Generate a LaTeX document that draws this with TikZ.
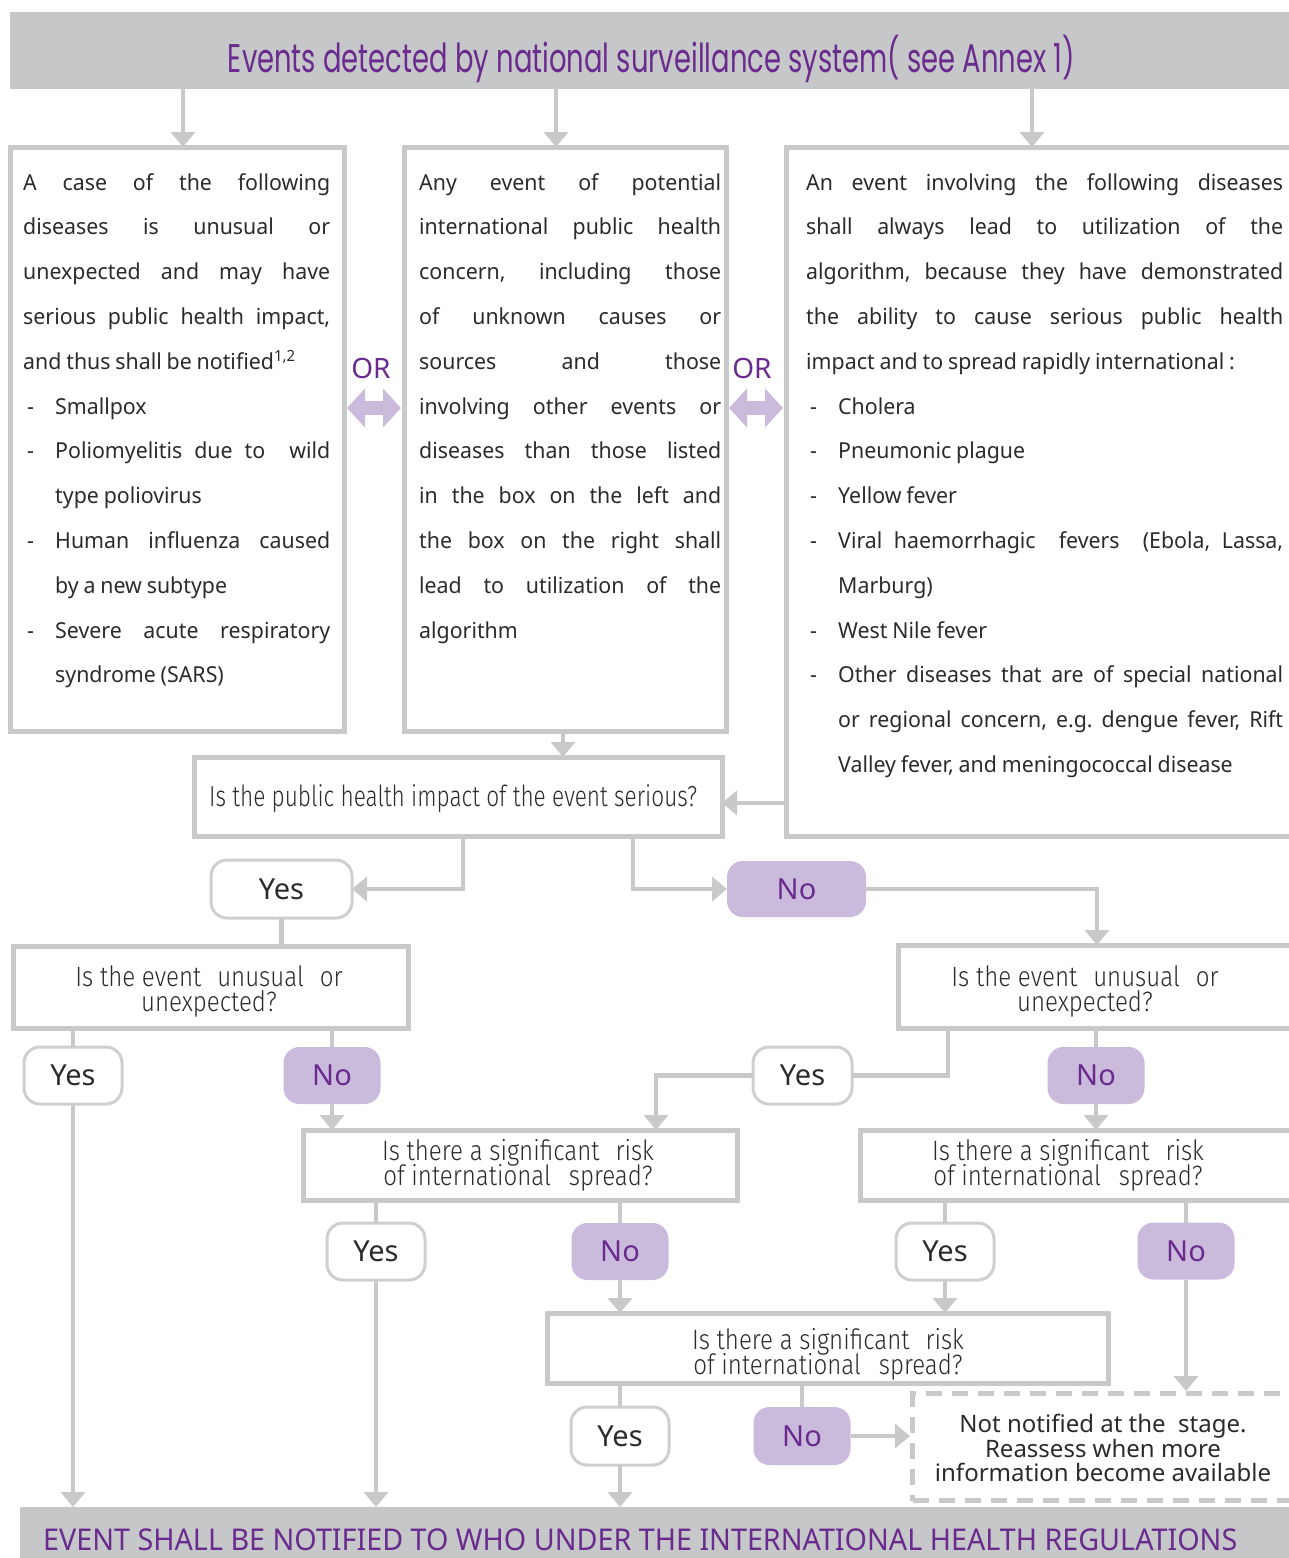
\documentclass[tikz,border=0pt]{standalone}
\usepackage{fontspec}
\usepackage{graphicx}
\usetikzlibrary{arrows.meta}
\setmainfont{Noto Sans}
\newfontfamily\titlef{Poppins}
\newfontfamily\qf{Fira Sans Light}[FakeStretch=0.78]
\newfontfamily\qfw{Fira Sans Light}[FakeStretch=0.86]
\newfontfamily\bodyf{Noto Sans}[FakeStretch=0.97]
\definecolor{lg}{HTML}{C8C9CB}
\definecolor{hdrg}{HTML}{C6C7C9}
\definecolor{purp}{HTML}{6A2A8E}
\definecolor{lav}{HTML}{CABBDC}
\definecolor{yb}{HTML}{CFCFD1}
\definecolor{tx}{HTML}{2B2B2B}
\frenchspacing
\newcommand\xJL[1]{\hbox to \hsize{#1}}
\newcommand\xLL[1]{\hbox to \hsize{#1\hfil}}
\newcommand\xBJ[1]{\hbox to \hsize{\hbox to 32pt{\hspace*{4pt}-\hfil}#1}}
\newcommand\xBL[1]{\hbox to \hsize{\hbox to 32pt{\hspace*{4pt}-\hfil}#1\hfil}}
\newcommand\xIJ[1]{\hbox to \hsize{\hspace*{32pt}#1}}
\newcommand\xIL[1]{\hbox to \hsize{\hspace*{32pt}#1\hfil}}
\newcommand\bodyset{\bodyf\fontsize{22}{44.8}\selectfont\spaceskip=0.22em plus 0.2em minus 0.05em\relax}
\newcommand\qset{\qf\fontsize{29}{25}\selectfont\lineskiplimit=-20pt\relax\lineskip=0pt\relax}
\newcommand\qsetw{\qfw\fontsize{28}{25}\selectfont\lineskiplimit=-20pt\relax\lineskip=0pt\relax}
\newcommand\noteset{\fontsize{24}{24.5}\selectfont\lineskiplimit=-20pt\relax\lineskip=0pt\relax}
\begin{document}
\begin{tikzpicture}[x=1pt,y=-1pt,
  box/.style={draw=lg, line width=5pt, inner sep=0pt, outer sep=0pt},
  sz/.style 2 args={minimum width=#1, minimum height=#2},
  yesb/.style={draw=yb, line width=3pt, rounded corners=16pt, fill=white, inner sep=0pt, outer sep=0pt,
     text=tx, font=\fontsize{29}{29}\selectfont},
  nob/.style={fill=lav, rounded corners=16pt, inner sep=0pt, outer sep=0pt,
     text=purp, font=\fontsize{29}{29}\selectfont},
  qtext/.style={inner sep=0pt, text=tx, align=center, font=\qsetw},
  arr/.style={draw=lg, line width=4.5pt, -{Triangle[width=24pt,length=15pt]}},
  ln/.style={draw=lg, line width=4.5pt},
  dbl/.style={draw=lav, line width=14pt, {Triangle[width=38pt,length=18pt]}-{Triangle[width=38pt,length=18pt]},
     shorten <=3pt, shorten >=3pt},
  ortext/.style={text=purp, inner sep=0pt, font=\fontsize{28}{28}\selectfont},
  bodytext/.style={anchor=base west, inner sep=0pt, text=tx}]
\useasboundingbox (0,0) rectangle (1289,1558);

% header and footer bars
\node[fill=hdrg, anchor=north west, sz={1300pt}{77pt}, inner sep=0pt] (hdr) at (10,12) {};
\node[anchor=base, text=purp, inner sep=0pt] (title) at (651.5,72)
  {\resizebox{847pt}{\height}{\titlef\fontsize{40}{40}\selectfont Events detected by national surveillance system( see Annex 1)}};
\node[fill=hdrg, anchor=north west, sz={1300pt}{60pt}, inner sep=0pt] (bar) at (20,1507) {};
\node[anchor=base west, text=purp, inner sep=0pt] (bart) at (43,1550)
  {\resizebox{1194pt}{\height}{\fontsize{30}{30}\selectfont EVENT SHALL BE NOTIFIED TO WHO UNDER THE INTERNATIONAL HEALTH REGULATIONS}};

% three top boxes
\node[box, sz={334pt}{584pt}] (b1) at (177,439) {};
\node[box, sz={322pt}{584pt}] (b2) at (565,439) {};
\node[box, sz={514pt}{689pt}] (b3) at (1043,491.5) {};

\node[bodytext] (b1t) at (23,190) {\parbox[t]{307pt}{\bodyset
\xJL{A case of the following}
\xJL{diseases is unusual or}
\xJL{unexpected and may have}
\xJL{serious public health impact,}
\xLL{and thus shall be notified\textsuperscript{1,2}}
\xBL{Smallpox}
\xBJ{Poliomyelitis due to~ wild}
\xIL{type poliovirus}
\xBJ{Human influenza caused}
\xIL{by a new subtype}
\xBJ{Severe acute respiratory}
\xIL{syndrome (SARS)}}};

\node[bodytext] (b2t) at (419,190) {\parbox[t]{302pt}{\bodyset
\xJL{Any event of potential}
\xJL{international public health}
\xJL{concern, including those}
\xJL{of unknown causes or}
\xJL{sources and those}
\xJL{involving other events or}
\xJL{diseases than those listed}
\xJL{in the box on the left and}
\xJL{the box on the right shall}
\xJL{lead to utilization of the}
\xLL{algorithm}}};

\node[bodytext] (b3t) at (806,190) {\parbox[t]{477pt}{\bodyset
\xJL{An event involving the following diseases}
\xJL{shall always lead to utilization of the}
\xJL{algorithm, because they have demonstrated}
\xJL{the ability to cause serious public health}
\xLL{impact and to spread rapidly international :}
\xBL{Cholera}
\xBL{Pneumonic plague}
\xBL{Yellow fever}
\xBJ{Viral haemorrhagic~ fevers~ (Ebola, Lassa,}
\xIL{Marburg)}
\xBL{West Nile fever}
\xBJ{Other diseases that are of special national}
\xIJ{or regional concern, e.g. dengue fever, Rift}
\xIL{Valley fever, and meningococcal disease}}};

% OR connectors
\node[ortext] (or1) at (371,368) {OR};
\node[ortext] (or2) at (752,368) {OR};
\coordinate (dy) at (0,408);
\draw[dbl] (b1.east |- dy) -- (b2.west |- dy);
\draw[dbl] (b2.east |- dy) -- (b3.west |- dy);

% header arrows
\draw[arr] ([xshift=6pt]b1.north |- hdr.south) -- ([xshift=6pt]b1.north);
\draw[arr] ([xshift=-9pt]b2.north |- hdr.south) -- ([xshift=-9pt]b2.north);
\draw[arr] ([xshift=-11pt]b3.north |- hdr.south) -- ([xshift=-11pt]b3.north);

% first question
\node[box, sz={528pt}{79pt}] (q1) at (458,796.5) {};
\node[qtext, font=\qset, anchor=base west] (q1t) at (209,806) {Is the public health impact of the event serious?};
\draw[arr] ([xshift=-2pt]b2.south) -- ([xshift=-2pt]b2.south |- q1.north);
\draw[arr] ([yshift=-6.5pt]q1.east -| b3.west) -- ([yshift=-6.5pt]q1.east);

\node[yesb, sz={141pt}{58pt}] (yes1) at (281.5,889) {Yes};
\node[nob, sz={139pt}{56pt}] (no1) at (796.5,889) {No};
\draw[arr] ([xshift=5pt]q1.south) |- (yes1.east);
\draw[arr] ([xshift=175pt]q1.south) |- (no1.west);

% second level questions
\node[box, sz={395pt}{82pt}] (qL) at (210.5,987) {};
\node[qtext] (qLt) at (209,991) {Is the event\hspace{16pt}unusual\hspace{16pt}or\\unexpected?};
\node[box, sz={402pt}{83pt}] (qR) at (1099,986.5) {};
\node[qtext] (qRt) at (1085,991) {Is the event\hspace{16pt}unusual\hspace{16pt}or\\unexpected?};
\draw[ln] (yes1.south) -- (yes1.south |- qL.north);
\draw[arr] (no1.east) -| ([xshift=-2pt]qR.north);

\node[yesb, sz={98pt}{57pt}] (yesL1) at (73,1075.5) {Yes};
\node[nob, sz={97pt}{57pt}] (noL1) at (332,1075.5) {No};
\node[yesb, sz={99pt}{57pt}] (yesR1) at (802.5,1075.5) {Yes};
\node[nob, sz={97pt}{57pt}] (noR1) at (1096,1075.5) {No};
\draw[ln] (yesL1.north |- qL.south) -- (yesL1.north);
\draw[ln] (noL1.north |- qL.south) -- (noL1.north);
\draw[ln] ([xshift=-151pt]qR.south) |- (yesR1.east);
\draw[ln] (noR1.north |- qR.south) -- (noR1.north);

% third level
\node[box, sz={434pt}{70pt}] (q2L) at (520,1165) {};
\node[qtext] (q2Lt) at (518,1165) {Is there a significant\hspace{16pt}risk\\of international\hspace{18pt}spread?};
\node[box, sz={440pt}{70pt}] (q2R) at (1080,1165) {};
\node[qtext] (q2Rt) at (1068,1165) {Is there a significant\hspace{16pt}risk\\of international\hspace{18pt}spread?};
\draw[arr] (noL1.south) -- (noL1.south |- q2L.north);
\draw[arr] (yesR1.west) -| ([xshift=136pt]q2L.north);
\draw[arr] (noR1.south) -- (noR1.south |- q2R.north);

\node[yesb, sz={98pt}{57pt}] (yes2L) at (376,1251.5) {Yes};
\node[nob, sz={97pt}{57pt}] (no2L) at (620,1251.5) {No};
\node[yesb, sz={98pt}{57pt}] (yes2R) at (945,1251.5) {Yes};
\node[nob, sz={97pt}{57pt}] (no2R) at (1186,1251) {No};
\draw[ln] (yes2L.north |- q2L.south) -- (yes2L.north);
\draw[ln] (no2L.north |- q2L.south) -- (no2L.north);
\draw[ln] (yes2R.north |- q2R.south) -- (yes2R.north);
\draw[ln] (no2R.north |- q2R.south) -- (no2R.north);

% fourth level
\node[box, sz={561pt}{70pt}] (q3) at (827.5,1348) {};
\node[qtext] (q3t) at (828,1354) {Is there a significant\hspace{16pt}risk\\of international\hspace{18pt}spread?};
\draw[arr] (no2L.south) -- (no2L.south |- q3.north);
\draw[arr] (yes2R.south) -- (yes2R.south |- q3.north);

\node[yesb, sz={98pt}{58pt}] (yes3) at (620,1436) {Yes};
\node[nob, sz={97pt}{58pt}] (no3) at (802,1436) {No};
\draw[ln] (yes3.north |- q3.south) -- (yes3.north);
\draw[ln] (no3.north |- q3.south) -- (no3.north);

\node[draw=lg, line width=5pt, dash pattern=on 16pt off 10pt, anchor=north west, sz={390pt}{107pt}, inner sep=0pt] (note) at (910,1391) {};
\node[inner sep=0pt, align=center, text=tx, font=\noteset] (notet) at (1103,1448)
  {Not notified at the~ stage.\\Reassess when more\\information become available};
\draw[arr] (no2R.south) -- (no2R.south |- note.north);
\draw[arr] (no3.east) -- (no3.east -| note.west);

% arrows into the footer
\draw[arr] (yesL1.south) -- (yesL1.south |- bar.north);
\draw[arr] (yes2L.south) -- (yes2L.south |- bar.north);
\draw[arr] (yes3.south) -- (yes3.south |- bar.north);
\end{tikzpicture}
\end{document}
